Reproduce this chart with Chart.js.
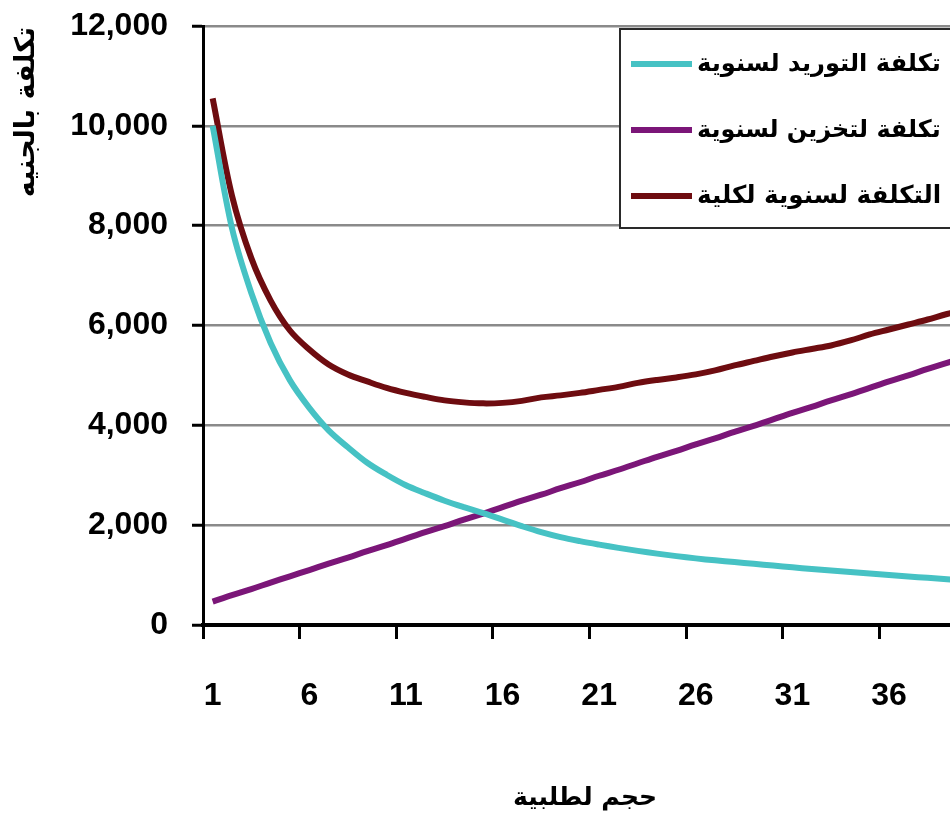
<!DOCTYPE html>
<html>
<head>
<meta charset="utf-8">
<script src="https://cdn.jsdelivr.net/npm/chart.js@4.4.1/dist/chart.umd.min.js"></script>
<style>
  html, body { margin: 0; padding: 0; background: #fff; overflow: hidden; }
  #wrap { position: absolute; left: 0; top: 0; width: 990px; height: 825px; }
</style>
</head>
<body>
<div id="wrap"><canvas id="costChart" width="990" height="825"></canvas></div>
<script>
// order quantity (categories on the x axis)
const orderSizes = [1, 2, 3, 4, 5, 6, 7, 8, 9, 10, 11, 12, 13, 14, 15, 16, 17, 18, 19, 20,
                    21, 22, 23, 24, 25, 26, 27, 28, 29, 30, 31, 32, 33, 34, 35, 36, 37, 38, 39, 40];

// annual ordering cost
const orderingCost = [10000, 7950, 6650, 5650, 4900, 4350, 3900, 3560, 3250, 3010,
                      2800, 2640, 2490, 2360, 2240, 2110, 1980, 1860, 1760, 1680,
                      1610, 1545, 1485, 1430, 1380, 1335, 1295, 1260, 1225, 1190,
                      1155, 1120, 1090, 1060, 1030, 1000, 970, 945, 915, 890];

// annual holding (storage) cost
const holdingCost = [470, 600, 720, 850, 975, 1100, 1230, 1350, 1480, 1600,
                     1730, 1860, 1980, 2110, 2230, 2360, 2490, 2610, 2740, 2860,
                     2990, 3110, 3240, 3370, 3490, 3620, 3740, 3870, 3990, 4120,
                     4250, 4370, 4500, 4620, 4750, 4880, 5000, 5130, 5250, 5380];

// total annual cost
const totalCost = [10550, 8600, 7350, 6500, 5900, 5520, 5220, 5020, 4880, 4750,
                   4650, 4570, 4500, 4460, 4440, 4450, 4490, 4560, 4600, 4650,
                   4710, 4770, 4850, 4910, 4960, 5020, 5100, 5200, 5290, 5380,
                   5460, 5530, 5600, 5700, 5820, 5920, 6020, 6120, 6230, 6320];

const seriesNames = ['تكلفة التوريد لسنوية', 'تكلفة لتخزين لسنوية', 'التكلفة لسنوية لكلية'];
const seriesColors = ['#46c2c4', '#7b1678', '#6e0c10'];

const yTicks = [0, 2000, 4000, 6000, 8000, 10000, 12000];
const yTitle = 'تكلفة بالجنيه';
const xTitle = 'حجم لطلبية';

const arabicFont = '"DejaVu Sans", sans-serif';

// shrink/grow a bold font so the text takes a given width
function fitFont(ctx, text, width, size) {
  ctx.font = 'bold ' + size + 'px ' + arabicFont;
  const w = ctx.measureText(text).width;
  const s = size * width / w;
  ctx.font = 'bold ' + s.toFixed(1) + 'px ' + arabicFont;
  return s;
}

// ─── Titles + boxed legend (drawn over the plot, like the original) ───────────
const decorPlugin = {
  id: 'decor',
  afterDraw(chart) {
    const ctx = chart.ctx;
    ctx.save();
    ctx.direction = 'rtl';
    ctx.fillStyle = '#000';
    ctx.textBaseline = 'middle';

    // y title, rotated
    ctx.save();
    ctx.translate(27, 112);
    ctx.rotate(-Math.PI / 2);
    ctx.font = 'bold 27px ' + arabicFont;
    ctx.textAlign = 'center';
    ctx.fillText(yTitle, 0, 0);
    ctx.restore();

    // x title
    ctx.font = 'bold 25px ' + arabicFont;
    ctx.textAlign = 'center';
    ctx.fillText(xTitle, 585, 798);

    // legend box
    const box = { x: 620, y: 29, w: 380, h: 199 };
    ctx.fillStyle = '#fff';
    ctx.fillRect(box.x, box.y, box.w, box.h);
    ctx.strokeStyle = '#2a2a2a';
    ctx.lineWidth = 2;
    ctx.strokeRect(box.x, box.y, box.w, box.h);

    const rowY = [64, 130, 196];
    chart.data.datasets.forEach((ds, i) => {
      const y = rowY[i];
      ctx.strokeStyle = ds.borderColor;
      ctx.lineWidth = 6;
      ctx.beginPath();
      ctx.moveTo(631, y);
      ctx.lineTo(692, y);
      ctx.stroke();
      ctx.fillStyle = '#000';
      fitFont(ctx, ds.label, 244, 24);
      ctx.textAlign = 'left';
      ctx.fillText(ds.label, 697, y + 1);
    });
    ctx.restore();
  }
};

new Chart(document.getElementById('costChart'), {
  type: 'line',
  data: {
    labels: orderSizes,
    datasets: [
      { label: seriesNames[0], data: orderingCost, borderColor: seriesColors[0] },
      { label: seriesNames[1], data: holdingCost, borderColor: seriesColors[1] },
      { label: seriesNames[2], data: totalCost, borderColor: seriesColors[2] },
    ].map(d => Object.assign(d, { borderWidth: 6, pointRadius: 0, tension: 0.35, fill: false }))
  },
  options: {
    responsive: false,
    animation: false,
    devicePixelRatio: 1,
    layout: { padding: { top: 26, right: 14, left: 0, bottom: 0 } },
    plugins: { legend: { display: false }, tooltip: { enabled: false } },
    scales: {
      x: {
        offset: true,
        afterFit: s => { s.height = 200; s.paddingLeft = 0; s.paddingRight = 0; },
        grid: {
          offset: true,
          drawOnChartArea: false,
          tickLength: 14,
          tickWidth: 3,
          tickColor: c => (c.index % 5 === 0 ? '#000' : 'rgba(0,0,0,0)')
        },
        border: { color: '#000', width: 4 },
        ticks: {
          autoSkip: false,
          maxRotation: 0,
          padding: 38,
          color: '#000',
          font: { family: '"Liberation Sans", Arial, sans-serif', size: 32, weight: 'bold' },
          callback: (v, i) => (i % 5 === 0 ? String(orderSizes[i]) : '')
        }
      },
      y: {
        min: 0,
        max: 12000,
        afterFit: s => { s.width = 203; s.paddingTop = 0; s.paddingBottom = 0; },
        afterBuildTicks: s => { s.ticks = yTicks.map(v => ({ value: v })); },
        grid: {
          color: '#8a8a8a',
          lineWidth: 2.5,
          tickLength: 11,
          tickWidth: 3,
          tickColor: '#000'
        },
        border: { color: '#000', width: 3 },
        ticks: {
          padding: 24,
          color: '#000',
          font: { family: '"Liberation Sans", Arial, sans-serif', size: 32, weight: 'bold' },
          callback: v => v.toLocaleString('en-US')
        }
      }
    }
  },
  plugins: [decorPlugin]
});
</script>
</body>
</html>
